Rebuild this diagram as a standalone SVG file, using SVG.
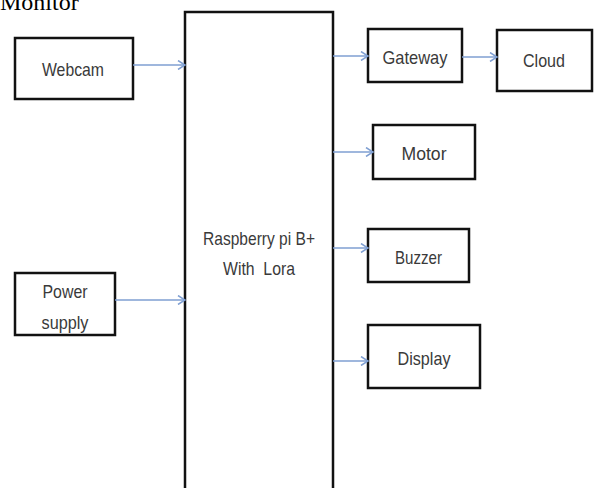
<svg xmlns="http://www.w3.org/2000/svg" width="594" height="488" viewBox="0 0 594 488">
<style>
.box{fill:#fff;stroke:#111;stroke-width:2.5}
.lbl{font-family:"Liberation Sans",Arial,sans-serif;font-size:19px;fill:#3a3a3a;text-anchor:middle}
.conn{stroke:#7f9fd2;stroke-width:1.5;fill:none;marker-end:url(#arr)}
</style>
<defs>
<marker id="arr" markerWidth="10" markerHeight="10" refX="8" refY="5" orient="auto" markerUnits="userSpaceOnUse">
<path d="M1,0.5 L8,5 L1,9.5" fill="none" stroke="#7f9fd2" stroke-width="1.5"/>
</marker>
</defs>
<rect width="594" height="488" fill="#fff"/>
<text x="0" y="10" font-family="Liberation Serif,'Times New Roman',serif" font-size="24" fill="#000">Monitor</text>
<g id="pi"><rect class="box" x="185" y="12" width="148" height="490"/>
<text class="lbl" x="259" y="245" textLength="112" lengthAdjust="spacingAndGlyphs">Raspberry pi B+</text>
<text class="lbl" x="259" y="275" textLength="72" lengthAdjust="spacingAndGlyphs" xml:space="preserve">With  Lora</text></g>
<g id="webcam"><rect class="box" x="15" y="38" width="118" height="61"/>
<text class="lbl" x="73" y="76" textLength="62" lengthAdjust="spacingAndGlyphs">Webcam</text></g>
<g id="power"><rect class="box" x="15" y="273" width="100" height="62"/>
<text class="lbl" x="65" y="298" textLength="45" lengthAdjust="spacingAndGlyphs">Power</text>
<text class="lbl" x="65" y="329" textLength="47" lengthAdjust="spacingAndGlyphs">supply</text></g>
<g id="gateway"><rect class="box" x="368" y="29" width="94" height="53"/>
<text class="lbl" x="415" y="64" textLength="65" lengthAdjust="spacingAndGlyphs">Gateway</text></g>
<g id="cloud"><rect class="box" x="497" y="30" width="95" height="61"/>
<text class="lbl" x="544" y="67" textLength="42" lengthAdjust="spacingAndGlyphs">Cloud</text></g>
<g id="motor"><rect class="box" x="373" y="125" width="102" height="54"/>
<text class="lbl" x="424" y="160" textLength="45" lengthAdjust="spacingAndGlyphs">Motor</text></g>
<g id="buzzer"><rect class="box" x="368" y="229" width="101" height="53"/>
<text class="lbl" x="418.5" y="264" textLength="47" lengthAdjust="spacingAndGlyphs">Buzzer</text></g>
<g id="display"><rect class="box" x="368" y="325" width="112" height="63"/>
<text class="lbl" x="424" y="365" textLength="53" lengthAdjust="spacingAndGlyphs">Display</text></g>
<g id="connectors">
<line class="conn" x1="133" y1="65" x2="185" y2="65"/>
<line class="conn" x1="115" y1="300" x2="185" y2="300"/>
<line class="conn" x1="333" y1="56" x2="368" y2="56"/>
<line class="conn" x1="462" y1="57" x2="497" y2="57"/>
<line class="conn" x1="333" y1="152" x2="373" y2="152"/>
<line class="conn" x1="333" y1="248" x2="368" y2="248"/>
<line class="conn" x1="333" y1="361" x2="368" y2="361"/>
</g>
</svg>
